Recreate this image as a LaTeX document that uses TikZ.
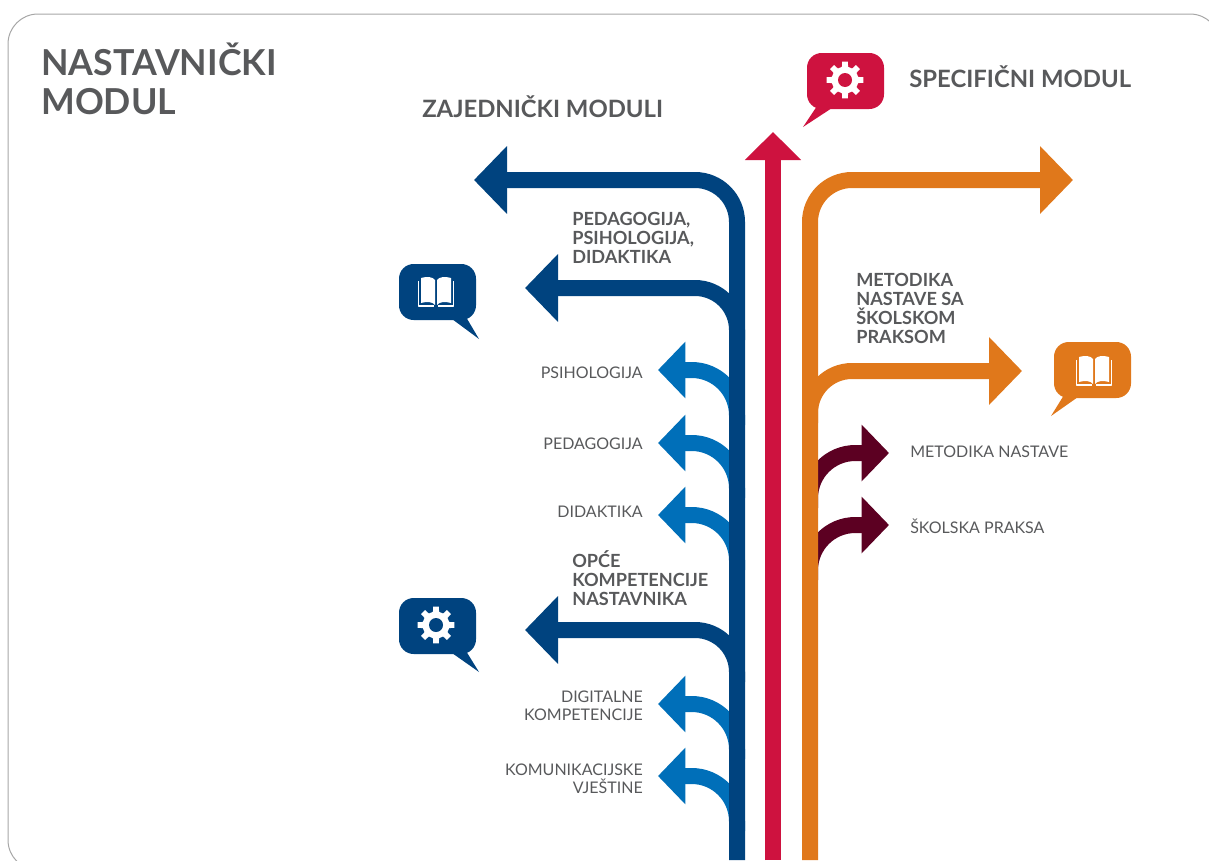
\documentclass[tikz,border=0pt]{standalone}
\usepackage{fontspec}
\setmainfont{Lato}
\usetikzlibrary{arrows.meta}
\definecolor{navyc}{HTML}{00437F}
\definecolor{bluec}{HTML}{006FB9}
\definecolor{redc}{HTML}{CE123F}
\definecolor{orangec}{HTML}{E0781B}
\definecolor{maroonc}{HTML}{5C0022}
\definecolor{textc}{HTML}{58595B}
\newcommand{\gearicon}[2]{%
  \fill[white] (#1) +(0:12.5) \foreach \a in {0,45,...,315} {
    -- +(\a-13:13.5) -- +(\a-9:18.5) -- +(\a+9:18.5) -- +(\a+13:13.5) -- +(\a+32:13.5)} -- cycle;
  \fill[#2] (#1) circle[radius=7];
}
\newcommand{\bookicon}[1]{%
  \begin{scope}[shift={(#1)}]
    \draw[white,line width=1pt,line join=round] (-17.5,-19) -- (-17.5,6) -- (-2,6) (17.5,-19) -- (17.5,6) -- (2,6);
    \fill[white] (-15,-22) .. controls (-9,-24) and (-3,-23) .. (-1,-20) -- (-1,5) .. controls (-3,2) and (-9,1) .. (-15,3) -- cycle;
    \fill[white] (15,-22) .. controls (9,-24) and (3,-23) .. (1,-20) -- (1,5) .. controls (3,2) and (9,1) .. (15,3) -- cycle;
  \end{scope}
}
\tikzset{
  thick path/.style = {line width=12pt, rounded corners=31.5pt, -{Triangle[length=24.75pt,width=49.5pt]}},
  thin path/.style = {line width=12pt, rounded corners=34pt, -{Triangle[length=20.5pt,width=41.25pt]}},
  title/.style = {text=textc, font=\bfseries\fontsize{26.8}{29.2}\selectfont, align=left, anchor=base west, inner sep=0pt},
  head/.style = {text=textc, font=\bfseries\fontsize{17.9}{20}\selectfont, anchor=base west, inner sep=0pt},
  boldlabel/.style = {text=textc, font=\bfseries\fontsize{13.6}{14.25}\selectfont, align=left, anchor=base west, inner sep=0pt},
  rightlabel/.style = {text=textc, font=\fontsize{12}{13.5}\selectfont, align=right, anchor=base east, inner sep=0pt},
  leftlabel/.style = {text=textc, font=\fontsize{12}{13.5}\selectfont, align=left, anchor=base west, inner sep=0pt},
}
\begin{document}
\begin{tikzpicture}[x=0.75pt, y=-0.75pt]
  \useasboundingbox (0,0) rectangle (1209,860);
  \clip (0,0) rectangle (1209,860);
  \draw[black!35, line width=0.75pt, rounded corners=22.5pt] (8,14) rectangle (1220,870);

  % start and end of the arrows
  \coordinate (navyA) at (737,860);
  \coordinate (navyAend) at (474,180);
  \coordinate (navyB) at (737,340);
  \coordinate (navyBend) at (525,288);
  \coordinate (navyC) at (737,682);
  \coordinate (navyCend) at (525,630);
  \coordinate (blueA) at (737,425);
  \coordinate (blueAend) at (658,370);
  \coordinate (blueB) at (737,498);
  \coordinate (blueBend) at (658,443);
  \coordinate (blueC) at (737,570);
  \coordinate (blueCend) at (658,515);
  \coordinate (blueD) at (737,759);
  \coordinate (blueDend) at (658,704);
  \coordinate (blueE) at (737,831);
  \coordinate (blueEend) at (658,776);
  \coordinate (redA) at (773,860);
  \coordinate (redAend) at (773,132);
  \coordinate (orangeA) at (810,860);
  \coordinate (orangeAend) at (1073,180);
  \coordinate (orangeB) at (810,423);
  \coordinate (orangeBend) at (1022,371);
  \coordinate (maroonA) at (810,508);
  \coordinate (maroonAend) at (889,453);
  \coordinate (maroonB) at (810,580);
  \coordinate (maroonBend) at (889,525);

  \foreach \s in {blueA,blueB,blueC,blueD,blueE}
    \draw[thin path, bluec] (\s) |- (\s end);
  \foreach \s in {maroonA,maroonB}
    \draw[thin path, maroonc] (\s) |- (\s end);
  \foreach \s in {navyA,navyB,navyC}
    \draw[thick path, navyc] (\s) |- (\s end);
  \foreach \s in {orangeA,orangeB}
    \draw[thick path, orangec] (\s) |- (\s end);
  \draw[line width=12pt, redc, -{Triangle[length=21pt,width=41pt]}] (redA) -- (redAend);

  % speech bubbles
  \fill[navyc, rounded corners=11pt] (399,264) rectangle (476,320);
  \fill[navyc] (452,319) -- (479,339) -- (466,317) -- cycle;
  \bookicon{436,300}
  \fill[navyc, rounded corners=11pt] (399,598) rectangle (476,654);
  \fill[navyc] (452,653) -- (479,672) -- (466,651) -- cycle;
  \gearicon{436,625}{navyc}
  \fill[redc, rounded corners=11pt] (807,53) rectangle (884,109);
  \fill[redc] (832,108) -- (803,127) -- (817,106) -- cycle;
  \gearicon{845,80}{redc}
  \fill[orangec, rounded corners=11pt] (1054,342) rectangle (1131,398);
  \fill[orangec] (1078,397) -- (1051,416) -- (1064,395) -- cycle;
  \bookicon{1094,379}

  % texts
  \node[title] (nastavnicki) at (41,114) {NASTAVNIČKI\\MODUL};
  \node[head] (zajednicki) at (422,117) {ZAJEDNIČKI MODULI};
  \node[head] (specificni) at (909,87) {SPECIFIČNI MODUL};
  \node[boldlabel] (ppd) at (572,263) {PEDAGOGIJA,\\PSIHOLOGIJA,\\DIDAKTIKA};
  \node[boldlabel] (opce) at (572,605) {OPĆE\\KOMPETENCIJE\\NASTAVNIKA};
  \node[boldlabel] (metodika) at (856,343) {METODIKA\\NASTAVE SA\\ŠKOLSKOM\\PRAKSOM};
  \node[rightlabel] (psihologija) at (643,378) {PSIHOLOGIJA};
  \node[rightlabel] (pedagogija) at (643,449) {PEDAGOGIJA};
  \node[rightlabel] (didaktika) at (643,517) {DIDAKTIKA};
  \node[rightlabel] (digitalne) at (643,720) {DIGITALNE\\KOMPETENCIJE};
  \node[rightlabel] (komunikacijske) at (643,793) {KOMUNIKACIJSKE\\VJEŠTINE};
  \node[leftlabel] (metodikan) at (910,457) {METODIKA NASTAVE};
  \node[leftlabel] (skolska) at (910,533) {ŠKOLSKA PRAKSA};
\end{tikzpicture}
\end{document}
